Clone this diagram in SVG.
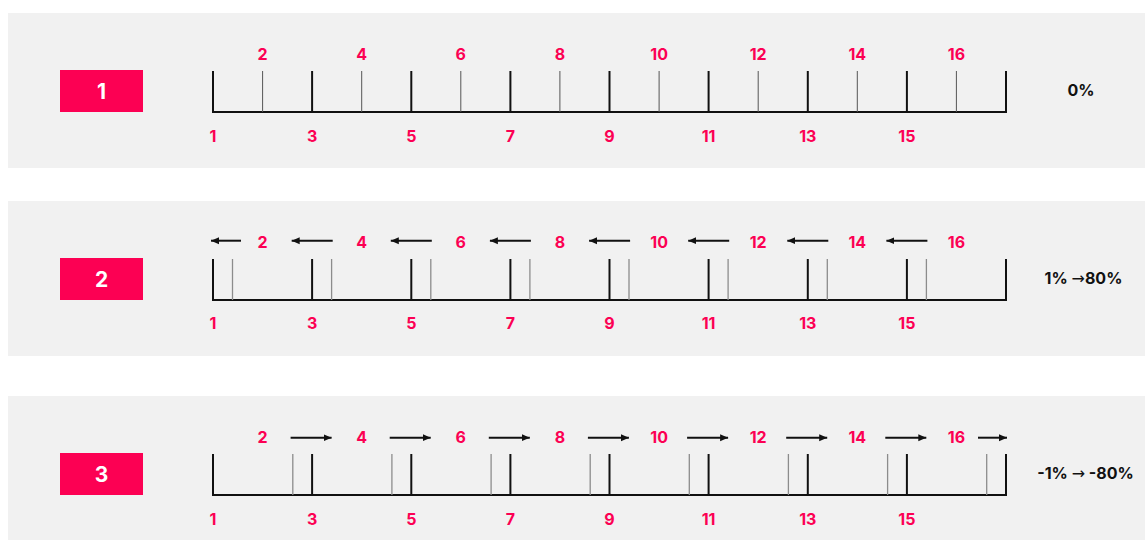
<svg xmlns="http://www.w3.org/2000/svg" width="1145" height="540" viewBox="0 0 1145 540">
<style>
.panel{fill:#f1f1f1}
.badge{fill:#fc0053}
.badgeT{font-family:Inter,Roboto,"Liberation Sans",sans-serif;font-weight:700;font-size:21px;fill:#fff;text-anchor:middle}
.num{font-family:Inter,Roboto,"Liberation Sans",sans-serif;font-weight:700;font-size:16px;fill:#fc0053;text-anchor:middle}
.pct{font-family:Inter,Roboto,"Liberation Sans",sans-serif;font-weight:700;font-size:16px;fill:#111;text-anchor:middle}
.ar{font-family:"DejaVu Sans",sans-serif;font-weight:400}
.base{stroke:#111;stroke-width:2;fill:none}
.major{stroke:#111;stroke-width:2}
.minor1{stroke:#555;stroke-width:1}
.minor2{stroke:#8c8c8c;stroke-width:1.3}
.arr{stroke:#111;stroke-width:2;marker-end:url(#ah)}
</style>
<defs>
<marker id="ah" markerUnits="userSpaceOnUse" markerWidth="9" markerHeight="8" refX="8" refY="4" orient="auto">
<path d="M0,0.5 L8,4 L0,7.5 z" fill="#111"/>
</marker>
</defs>
<rect class="panel" x="8" y="13" width="1137" height="155"/>
<rect class="panel" x="8" y="201" width="1137" height="155"/>
<rect class="panel" x="8" y="396" width="1137" height="144"/>

<g id="node-badge-1"><rect class="badge" x="60" y="70" width="83" height="42"/><text class="badgeT" x="101.5" y="98.5">1</text></g>
<g id="node-badge-2"><rect class="badge" x="60" y="258" width="83" height="42"/><text class="badgeT" x="101.5" y="286.5">2</text></g>
<g id="node-badge-3"><rect class="badge" x="60" y="453" width="83" height="42"/><text class="badgeT" x="101.5" y="481.5">3</text></g>

<g id="node-ruler-1">
<path class="base" d="M213,71 V112 H1006 V71"/>
<g class="major">
<line x1="312.1" y1="71" x2="312.1" y2="112"/><line x1="411.3" y1="71" x2="411.3" y2="112"/><line x1="510.4" y1="71" x2="510.4" y2="112"/><line x1="609.5" y1="71" x2="609.5" y2="112"/><line x1="708.6" y1="71" x2="708.6" y2="112"/><line x1="807.8" y1="71" x2="807.8" y2="112"/><line x1="906.9" y1="71" x2="906.9" y2="112"/>
</g>
<g class="minor1">
<line x1="262.6" y1="71" x2="262.6" y2="112"/><line x1="361.7" y1="71" x2="361.7" y2="112"/><line x1="460.8" y1="71" x2="460.8" y2="112"/><line x1="559.9" y1="71" x2="559.9" y2="112"/><line x1="659.1" y1="71" x2="659.1" y2="112"/><line x1="758.2" y1="71" x2="758.2" y2="112"/><line x1="857.3" y1="71" x2="857.3" y2="112"/><line x1="956.4" y1="71" x2="956.4" y2="112"/>
</g>
<g>
<text class="num" x="262.6" y="60">2</text><text class="num" x="361.7" y="60">4</text><text class="num" x="460.8" y="60">6</text><text class="num" x="559.9" y="60">8</text><text class="num" x="659.1" y="60">10</text><text class="num" x="758.2" y="60">12</text><text class="num" x="857.3" y="60">14</text><text class="num" x="956.4" y="60">16</text>
<text class="num" x="213" y="142">1</text><text class="num" x="312.1" y="142">3</text><text class="num" x="411.3" y="142">5</text><text class="num" x="510.4" y="142">7</text><text class="num" x="609.5" y="142">9</text><text class="num" x="708.6" y="142">11</text><text class="num" x="807.8" y="142">13</text><text class="num" x="906.9" y="142">15</text>
</g>
<text class="pct" x="1081" y="95.5">0%</text>
</g>

<g id="node-ruler-2">
<path class="base" d="M213,259 V300 H1006 V259"/>
<g class="major">
<line x1="312.1" y1="259" x2="312.1" y2="300"/><line x1="411.3" y1="259" x2="411.3" y2="300"/><line x1="510.4" y1="259" x2="510.4" y2="300"/><line x1="609.5" y1="259" x2="609.5" y2="300"/><line x1="708.6" y1="259" x2="708.6" y2="300"/><line x1="807.8" y1="259" x2="807.8" y2="300"/><line x1="906.9" y1="259" x2="906.9" y2="300"/>
</g>
<g class="minor2">
<line x1="232.5" y1="259" x2="232.5" y2="300"/><line x1="331.6" y1="259" x2="331.6" y2="300"/><line x1="430.8" y1="259" x2="430.8" y2="300"/><line x1="529.9" y1="259" x2="529.9" y2="300"/><line x1="629" y1="259" x2="629" y2="300"/><line x1="728.1" y1="259" x2="728.1" y2="300"/><line x1="827.3" y1="259" x2="827.3" y2="300"/><line x1="926.4" y1="259" x2="926.4" y2="300"/>
</g>
<g>
<text class="num" x="262.6" y="247.5">2</text><text class="num" x="361.7" y="247.5">4</text><text class="num" x="460.8" y="247.5">6</text><text class="num" x="559.9" y="247.5">8</text><text class="num" x="659.1" y="247.5">10</text><text class="num" x="758.2" y="247.5">12</text><text class="num" x="857.3" y="247.5">14</text><text class="num" x="956.4" y="247.5">16</text>
<text class="num" x="213" y="329">1</text><text class="num" x="312.1" y="329">3</text><text class="num" x="411.3" y="329">5</text><text class="num" x="510.4" y="329">7</text><text class="num" x="609.5" y="329">9</text><text class="num" x="708.6" y="329">11</text><text class="num" x="807.8" y="329">13</text><text class="num" x="906.9" y="329">15</text>
</g>
<text class="pct" x="1083.5" y="284">1% <tspan class="ar">→</tspan>80%</text>
</g>

<g id="node-ruler-3">
<path class="base" d="M213,454 V495 H1006 V454"/>
<g class="major">
<line x1="312.1" y1="454" x2="312.1" y2="495"/><line x1="411.3" y1="454" x2="411.3" y2="495"/><line x1="510.4" y1="454" x2="510.4" y2="495"/><line x1="609.5" y1="454" x2="609.5" y2="495"/><line x1="708.6" y1="454" x2="708.6" y2="495"/><line x1="807.8" y1="454" x2="807.8" y2="495"/><line x1="906.9" y1="454" x2="906.9" y2="495"/>
</g>
<g class="minor2">
<line x1="292.8" y1="454" x2="292.8" y2="495"/><line x1="391.9" y1="454" x2="391.9" y2="495"/><line x1="491.1" y1="454" x2="491.1" y2="495"/><line x1="590.2" y1="454" x2="590.2" y2="495"/><line x1="689.3" y1="454" x2="689.3" y2="495"/><line x1="788.4" y1="454" x2="788.4" y2="495"/><line x1="887.6" y1="454" x2="887.6" y2="495"/><line x1="986.7" y1="454" x2="986.7" y2="495"/>
</g>
<g>
<text class="num" x="262.6" y="443">2</text><text class="num" x="361.7" y="443">4</text><text class="num" x="460.8" y="443">6</text><text class="num" x="559.9" y="443">8</text><text class="num" x="659.1" y="443">10</text><text class="num" x="758.2" y="443">12</text><text class="num" x="857.3" y="443">14</text><text class="num" x="956.4" y="443">16</text>
<text class="num" x="213" y="525">1</text><text class="num" x="312.1" y="525">3</text><text class="num" x="411.3" y="525">5</text><text class="num" x="510.4" y="525">7</text><text class="num" x="609.5" y="525">9</text><text class="num" x="708.6" y="525">11</text><text class="num" x="807.8" y="525">13</text><text class="num" x="906.9" y="525">15</text>
</g>
<text class="pct" x="1085.5" y="478.5">-1% <tspan class="ar">→</tspan> -80%</text>
</g>

<g id="connectors">
<line class="arr" x1="241" y1="240.7" x2="211" y2="240.7"/>
<line class="arr" x1="332.7" y1="240.7" x2="291.7" y2="240.7"/>
<line class="arr" x1="431.8" y1="240.7" x2="390.8" y2="240.7"/>
<line class="arr" x1="530.9" y1="240.7" x2="489.9" y2="240.7"/>
<line class="arr" x1="630.1" y1="240.7" x2="589.1" y2="240.7"/>
<line class="arr" x1="729.2" y1="240.7" x2="688.2" y2="240.7"/>
<line class="arr" x1="828.3" y1="240.7" x2="787.3" y2="240.7"/>
<line class="arr" x1="927.4" y1="240.7" x2="886.4" y2="240.7"/>
<line class="arr" x1="290.6" y1="437.7" x2="331.6" y2="437.7"/>
<line class="arr" x1="389.7" y1="437.7" x2="430.7" y2="437.7"/>
<line class="arr" x1="488.8" y1="437.7" x2="529.8" y2="437.7"/>
<line class="arr" x1="587.9" y1="437.7" x2="628.9" y2="437.7"/>
<line class="arr" x1="687.1" y1="437.7" x2="728.1" y2="437.7"/>
<line class="arr" x1="786.2" y1="437.7" x2="827.2" y2="437.7"/>
<line class="arr" x1="885.3" y1="437.7" x2="926.3" y2="437.7"/>
<line class="arr" x1="978" y1="437.7" x2="1007" y2="437.7"/>
</g>
</svg>
